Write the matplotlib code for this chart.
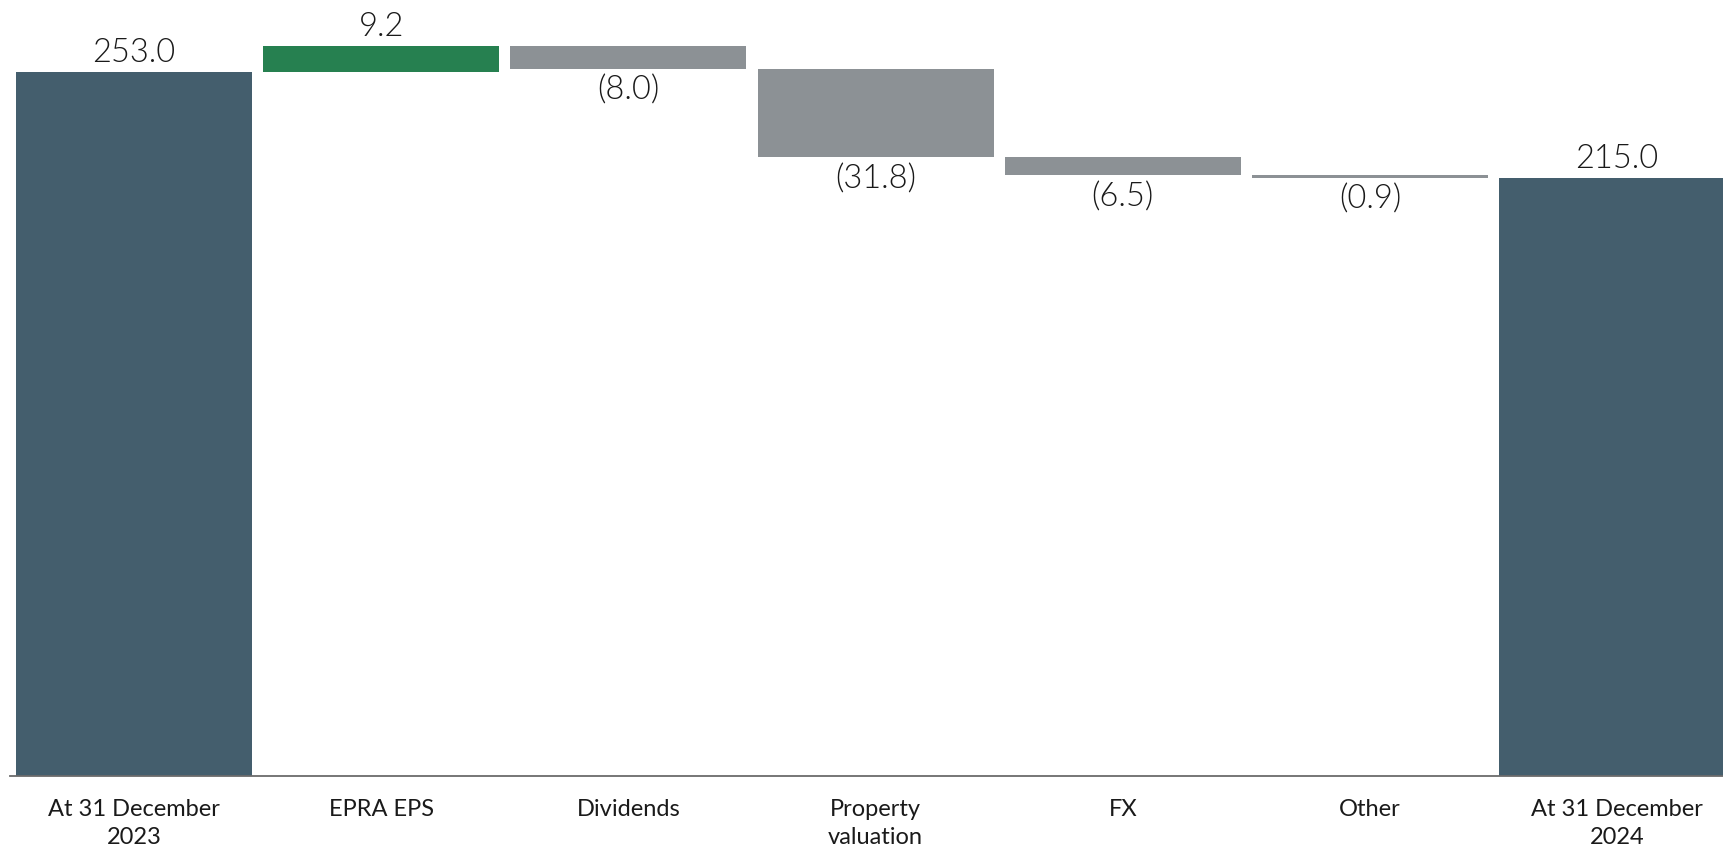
import matplotlib
matplotlib.use("Agg")
import matplotlib.pyplot as plt

plt.rcParams['font.family'] = ['Lato', 'DejaVu Sans']

categories = ["At 31 December\n2023", "EPRA EPS", "Dividends", "Property\nvaluation",
              "FX", "Other", "At 31 December\n2024"]
opening = 253.0
changes = [9.2, -8.0, -31.8, -6.5, -0.9]
closing = 215.0

TOTAL_COLOR = "#445E6D"
UP_COLOR = "#268050"
DOWN_COLOR = "#8C9195"
TEXT_COLOR = "#1a1a1a"

W, H = 1723, 848
fig = plt.figure(figsize=(W / 100, H / 100), dpi=100)
ax = fig.add_axes([10 / W, (H - 776) / H, 1 - 10 / W, 776 / H])

bar_w = 0.955

def fmt(v):
    return f"{v:.1f}" if v >= 0 else f"({abs(v):.1f})"

# totals start at zero, changes float on the running total
bottoms, heights, colors = [0], [opening], [TOTAL_COLOR]
running = opening
for c in changes:
    if c >= 0:
        bottoms.append(running); heights.append(c); colors.append(UP_COLOR)
    else:
        bottoms.append(running + c); heights.append(-c); colors.append(DOWN_COLOR)
    running += c
bottoms.append(0); heights.append(closing); colors.append(TOTAL_COLOR)

xs = list(range(len(categories)))
ax.bar(xs, heights, bottom=bottoms, width=bar_w, color=colors, linewidth=0)

values = [opening] + changes + [closing]
for x, b, h, v in zip(xs, bottoms, heights, values):
    if v >= 0:
        ax.annotate(fmt(v), (x, b + h), xytext=(0, 3), textcoords="offset points",
                    ha="center", va="bottom", fontsize=23.5, fontweight=300, color=TEXT_COLOR)
    else:
        ax.annotate(fmt(v), (x, b), xytext=(0, -5), textcoords="offset points",
                    ha="center", va="top", fontsize=23.5, fontweight=300, color=TEXT_COLOR)

ax.set_xlim(-0.502, 6.428)
ax.set_ylim(0, 278.9)
ax.set_xticks(xs)
ax.set_xticklabels(categories, fontsize=17, color=TEXT_COLOR, linespacing=1.4)
ax.tick_params(axis="x", length=0, pad=16.5)
ax.set_yticks([])
for s in ("top", "right", "left"):
    ax.spines[s].set_visible(False)
ax.spines["bottom"].set_color("#6b6b6b")
ax.spines["bottom"].set_linewidth(1.3)

fig.savefig("out.png", dpi=100)
